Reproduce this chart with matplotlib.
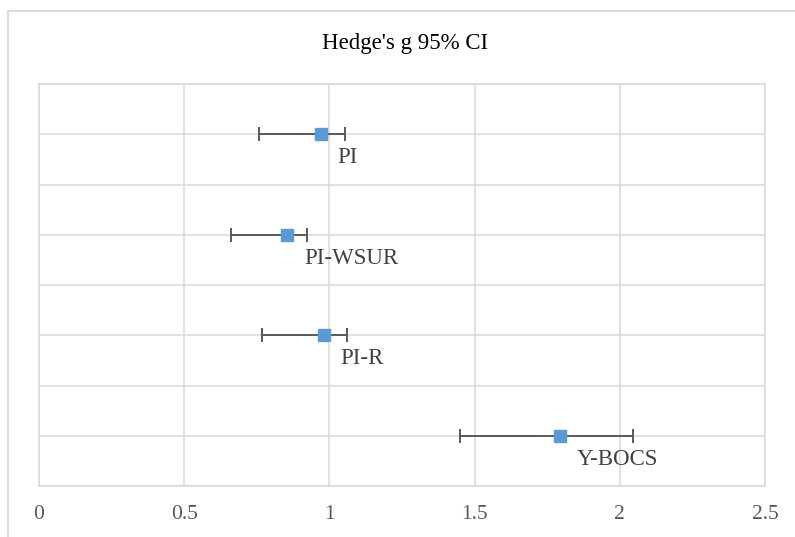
import numpy as np
import matplotlib.pyplot as plt
from matplotlib.patches import Rectangle

# Podaci: Hedge's g i 95% CI
labels = ["PI", "PI-WSUR", "PI-R", "Y-BOCS"]
g = [0.970, 0.855, 0.980, 1.794]
ci_low = [0.758, 0.660, 0.768, 1.450]
ci_high = [1.052, 0.922, 1.061, 2.047]
ypos = [3.5, 2.5, 1.5, 0.5]
xticks = [0, 0.5, 1, 1.5, 2, 2.5]
xticklabels = ["0", "0.5", "1", "1.5", "2", "2.5"]

plt.rcParams['font.family'] = ['Liberation Serif', 'DejaVu Serif']

g = np.array(g)
err = np.array([g - np.array(ci_low), np.array(ci_high) - g])

fig = plt.figure(figsize=(7.95, 5.37), dpi=100)
# okvir grafa (desni i donji rub su izvan slike)
fig.patches.append(Rectangle((7.5 / 795, -1), 2, 2 - 10.5 / 537, transform=fig.transFigure,
                             fill=False, edgecolor="#d9d9d9", lw=1.3))

ax = fig.add_axes([39 / 795, 51 / 537, 726 / 795, 402 / 537])
ax.errorbar(g, ypos, xerr=err, fmt="none", ecolor="#595959", elinewidth=1.4,
            capsize=5, capthick=1.4, zorder=3)
ax.plot(g, ypos, "s", color="#5b9bd5", markersize=8, zorder=4)

for x, y, lab in zip(g, ypos, labels):
    ax.annotate(lab, (x, y), xytext=(12, -17), textcoords="offset points",
                ha="left", va="center", fontsize=16.5, color="#404040")

ax.set_xlim(0, 2.5)
ax.set_ylim(0, 4)
ax.set_xticks(xticks)
ax.set_xticklabels(xticklabels, fontsize=15.5, color="#595959")
ax.set_yticks(np.arange(0, 4.01, 0.5))
ax.set_yticklabels([])
ax.tick_params(length=0, pad=14)
ax.grid(True, color="#d9d9d9", lw=1.1)
ax.set_axisbelow(True)
for s in ax.spines.values():
    s.set_color("#d9d9d9")
    s.set_linewidth(1.1)

fig.text(405 / 795, 1 - 43 / 537, "Hedge's g 95% CI", ha="center", va="center",
         fontsize=16.5, color="#000000")

plt.savefig("out.png", dpi=100)
